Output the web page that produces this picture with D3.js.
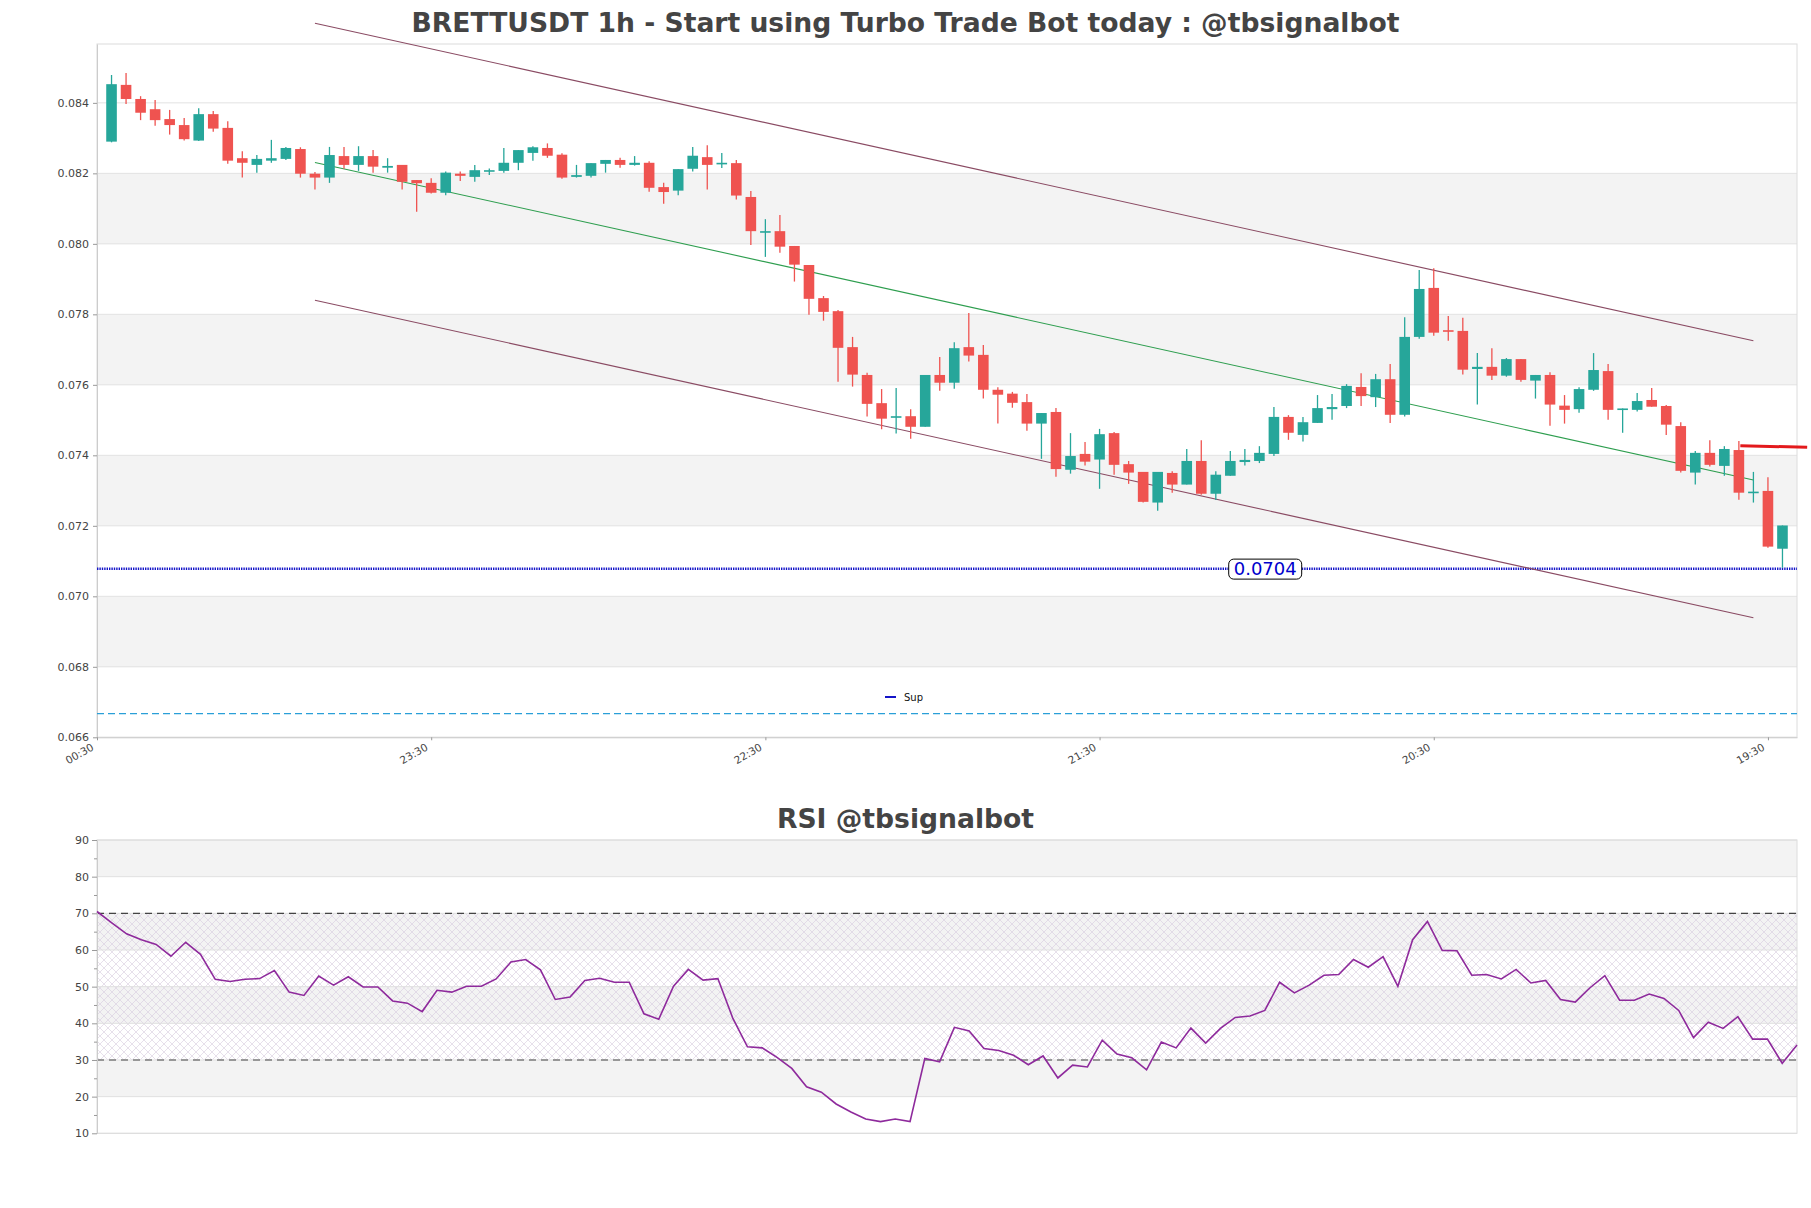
<!DOCTYPE html>
<html><head><meta charset="utf-8">
<script src="https://cdnjs.cloudflare.com/ajax/libs/d3/7.8.5/d3.min.js"></script>
<style>body{margin:0;background:#fff;} svg{display:block;font-family:"DejaVu Sans",sans-serif;}</style>
</head><body><svg id="c" width="1811" height="1208"></svg>
<script>
// ---------- DATA ----------
const opens = [0.08290,0.08451,0.08411,0.08382,0.08354,0.08337,0.08293,0.08368,0.08329,0.08243,
0.08224,0.08236,0.08241,0.08269,0.08199,0.08188,0.08249,0.08224,0.08249,0.08216,
0.08224,0.08181,0.08173,0.08145,0.08199,0.08190,0.08205,0.08207,0.08230,0.08258,
0.08272,0.08253,0.08190,0.08193,0.08227,0.08238,0.08224,0.08230,0.08161,0.08151,
0.08213,0.08246,0.08227,0.08229,0.08133,0.08034,0.08036,0.07994,0.07940,0.07846,
0.07809,0.07707,0.07628,0.07548,0.07509,0.07511,0.07481,0.07628,0.07606,0.07707,
0.07685,0.07586,0.07575,0.07551,0.07490,0.07523,0.07359,0.07404,0.07388,0.07463,
0.07375,0.07353,0.07266,0.07350,0.07317,0.07384,0.07291,0.07342,0.07381,0.07384,
0.07404,0.07509,0.07458,0.07492,0.07531,0.07540,0.07594,0.07565,0.07616,0.07515,
0.07736,0.07875,0.07755,0.07753,0.07645,0.07651,0.07626,0.07673,0.07612,0.07628,
0.07541,0.07531,0.07586,0.07639,0.07529,0.07529,0.07557,0.07540,0.07483,0.07351,
0.07407,0.07370,0.07415,0.07294,0.07299,0.07135];
const highs = [0.08479,0.08485,0.08419,0.08408,0.08380,0.08357,0.08385,0.08377,0.08348,0.08263,
0.08252,0.08295,0.08275,0.08274,0.08204,0.08275,0.08275,0.08277,0.08266,0.08243,
0.08224,0.08181,0.08186,0.08205,0.08205,0.08224,0.08214,0.08272,0.08266,0.08277,
0.08285,0.08257,0.08224,0.08229,0.08238,0.08244,0.08249,0.08234,0.08173,0.08212,
0.08275,0.08280,0.08258,0.08238,0.08150,0.08070,0.08082,0.07994,0.07940,0.07852,
0.07812,0.07736,0.07634,0.07588,0.07591,0.07531,0.07628,0.07679,0.07721,0.07804,
0.07713,0.07593,0.07580,0.07574,0.07520,0.07534,0.07463,0.07438,0.07475,0.07466,
0.07384,0.07353,0.07353,0.07355,0.07418,0.07443,0.07355,0.07412,0.07418,0.07426,
0.07537,0.07514,0.07509,0.07571,0.07574,0.07602,0.07633,0.07631,0.07659,0.07792,
0.07926,0.07931,0.07795,0.07790,0.07690,0.07704,0.07676,0.07673,0.07628,0.07636,
0.07571,0.07593,0.07690,0.07659,0.07533,0.07577,0.07591,0.07543,0.07494,0.07412,
0.07443,0.07426,0.07441,0.07353,0.07338,0.07201];
const lows = [0.08288,0.08397,0.08351,0.08335,0.08310,0.08293,0.08292,0.08318,0.08227,0.08188,
0.08202,0.08230,0.08238,0.08188,0.08154,0.08173,0.08213,0.08207,0.08202,0.08202,
0.08154,0.08091,0.08143,0.08138,0.08178,0.08176,0.08195,0.08202,0.08209,0.08236,
0.08244,0.08185,0.08188,0.08188,0.08202,0.08216,0.08222,0.08148,0.08114,0.08138,
0.08205,0.08154,0.08215,0.08126,0.07997,0.07963,0.07975,0.07893,0.07799,0.07782,
0.07609,0.07595,0.07510,0.07474,0.07462,0.07447,0.07481,0.07583,0.07589,0.07666,
0.07561,0.07490,0.07535,0.07470,0.07390,0.07339,0.07348,0.07371,0.07305,0.07345,
0.07319,0.07266,0.07243,0.07294,0.07317,0.07288,0.07273,0.07342,0.07371,0.07378,
0.07398,0.07444,0.07439,0.07492,0.07501,0.07534,0.07540,0.07537,0.07492,0.07510,
0.07731,0.07739,0.07725,0.07629,0.07544,0.07614,0.07623,0.07609,0.07561,0.07484,
0.07490,0.07521,0.07583,0.07501,0.07464,0.07524,0.07538,0.07458,0.07351,0.07317,
0.07368,0.07342,0.07274,0.07266,0.07138,0.07081];
const closes = [0.08453,0.08411,0.08372,0.08351,0.08337,0.08297,0.08368,0.08327,0.08236,0.08230,
0.08241,0.08243,0.08272,0.08199,0.08188,0.08252,0.08224,0.08249,0.08219,0.08221,
0.08176,0.08172,0.08145,0.08202,0.08193,0.08209,0.08209,0.08230,0.08266,0.08274,
0.08250,0.08188,0.08195,0.08229,0.08238,0.08224,0.08230,0.08159,0.08147,0.08212,
0.08250,0.08224,0.08230,0.08137,0.08036,0.08036,0.07992,0.07941,0.07844,0.07807,
0.07705,0.07629,0.07546,0.07504,0.07511,0.07481,0.07628,0.07606,0.07704,0.07683,
0.07586,0.07572,0.07549,0.07490,0.07520,0.07361,0.07398,0.07382,0.07460,0.07373,
0.07351,0.07268,0.07353,0.07317,0.07384,0.07291,0.07345,0.07384,0.07387,0.07407,
0.07509,0.07464,0.07494,0.07534,0.07537,0.07597,0.07568,0.07616,0.07515,0.07736,
0.07872,0.07748,0.07753,0.07643,0.07651,0.07626,0.07673,0.07614,0.07628,0.07544,
0.07529,0.07588,0.07642,0.07529,0.07533,0.07554,0.07538,0.07487,0.07356,0.07407,
0.07373,0.07418,0.07294,0.07297,0.07141,0.07201];
const rsiValues = [70.5,67.4,64.4,62.8,61.5,58.3,62.1,58.8,52.0,51.4,
52.0,52.2,54.4,48.5,47.6,52.9,50.4,52.7,49.9,49.9,
46.1,45.5,43.2,49.0,48.5,50.1,50.1,52.1,56.7,57.4,
54.6,46.5,47.2,51.7,52.3,51.2,51.2,42.6,41.1,50.1,
54.7,51.8,52.2,41.5,33.6,33.3,30.7,27.7,22.7,21.2,
18.0,15.8,13.9,13.2,13.9,13.2,30.4,29.5,38.9,37.9,
33.1,32.6,31.3,28.7,31.1,25.1,28.6,28.1,35.4,31.6,
30.6,27.3,34.9,33.3,38.7,34.6,38.6,41.6,42.0,43.5,
51.2,48.3,50.4,53.1,53.3,57.4,55.3,58.2,50.1,62.8,
67.8,59.9,59.8,53.1,53.3,52.1,54.7,51.0,51.7,46.5,
45.8,49.7,53.0,46.3,46.3,48.0,46.8,43.5,36.1,40.3,
38.6,41.8,35.7,35.7,29.1,34.1];
const timeLabels = ["00:30","23:30","22:30","21:30","20:30","19:30"];
const timeLabelIndex = [-1,22,45,68,91,114];
const priceTicks = [0.066,0.068,0.070,0.072,0.074,0.076,0.078,0.080,0.082,0.084];
const priceBandLows = [0.068,0.072,0.076,0.080];
const rsiTicks = [10,20,30,40,50,60,70,80,90];
const rsiMinorTicks = [15,25,35,45,55,65,75,85];
const rsiBandLows = [20,40,60,80];
const rsiLevels = [30,70];
// trend channel: [startIndex, startPrice, endIndex, endPrice]
const upperLine = [14, 0.08626, 113, 0.07725];
const midLine   = [14, 0.08231, 113, 0.07330];
const lowerLine = [14, 0.07840, 113, 0.06939];
const redLine   = [112.1, 0.07427, 116.7, 0.07423];
const blueLevel = 0.07078;
const blueLabel = "0.0704";
const blueLabelIndex = 79.4;
const supLevel = 0.06667;
const titleText = "BRETTUSDT 1h - Start using Turbo Trade Bot today : @tbsignalbot";
const rsiTitleText = "RSI @tbsignalbot";

// ---------- LAYOUT ----------
const svg = d3.select("#c");
svg.append("rect").attr("width",1811).attr("height",1208).attr("fill","#fff");
const L = 97, R = 1797;
const mT = 44, mB = 737.3;
const rT = 840, rB = 1133.3;
const x = d3.scaleLinear().domain([-1,116]).range([L,R]);
const y = d3.scaleLinear().domain([0.066,0.08567]).range([mB,mT]);
const xr = d3.scaleLinear().domain([0,115]).range([L,R]);
const yr = d3.scaleLinear().domain([10,90]).range([rB,rT]);

// ---------- MAIN ----------
const gm = svg.append("g");
gm.selectAll("rect.band").data(priceBandLows).join("rect")
  .attr("x",L).attr("width",R-L)
  .attr("y",d=>y(d+0.002)).attr("height",d=>y(d)-y(d+0.002))
  .attr("fill","#f3f3f3");
gm.selectAll("line.grid").data(priceTicks).join("line")
  .attr("x1",L).attr("x2",R).attr("y1",d=>y(d)).attr("y2",d=>y(d))
  .attr("stroke","#e2e2e2").attr("stroke-width",1);
gm.append("rect").attr("x",L).attr("y",mT).attr("width",R-L).attr("height",mB-mT)
  .attr("fill","none").attr("stroke","#dcdcdc");

const yAxis = gm.append("g").attr("transform",`translate(${L},0)`)
  .call(d3.axisLeft(y).tickValues(priceTicks).tickFormat(d3.format(".3f")).tickSize(4).tickSizeOuter(0).tickPadding(4));
yAxis.select(".domain").attr("stroke","#cccccc");
yAxis.selectAll(".tick line").attr("stroke","#999");
yAxis.selectAll("text").attr("font-size",11).attr("fill","#444").attr("font-family","DejaVu Sans");

const xAxis = gm.append("g").attr("transform",`translate(0,${mB})`)
  .call(d3.axisBottom(x).tickValues(timeLabelIndex).tickFormat((d,i)=>timeLabels[i]).tickSize(3).tickSizeOuter(0));
xAxis.select(".domain").attr("stroke","#cccccc");
xAxis.selectAll(".tick line").attr("stroke","#999");
xAxis.selectAll("text").attr("font-size",10.5).attr("fill","#444").attr("font-family","DejaVu Sans")
  .attr("text-anchor","end").attr("dy",null).attr("y",0)
  .attr("transform","translate(-3,12) rotate(-30)");

// reference lines
gm.append("line").attr("x1",L).attr("x2",R).attr("y1",y(supLevel)).attr("y2",y(supLevel))
  .attr("stroke","#2a9fd8").attr("stroke-width",1.2).attr("stroke-dasharray","7,4");
gm.append("line").attr("x1",L).attr("x2",R).attr("y1",y(blueLevel)).attr("y2",y(blueLevel))
  .attr("stroke","#1414c8").attr("stroke-width",2.6).attr("stroke-dasharray","1.4,1");

// channel lines
const seg = (arr,col,w)=>gm.append("line")
  .attr("x1",x(arr[0])).attr("y1",y(arr[1])).attr("x2",x(arr[2])).attr("y2",y(arr[3]))
  .attr("stroke",col).attr("stroke-width",w);
seg(upperLine,"#8a4b63",1.1);
seg(lowerLine,"#8a4b63",1.1);
seg(midLine,"#2e9e4f",1.1);

// candles
const idx = d3.range(opens.length);
const bw = (x(1)-x(0))*0.73;
const up = "#26a69a", dn = "#ef5350";
const cg = gm.append("g");
cg.selectAll("line.wick").data(idx).join("line")
  .attr("x1",i=>x(i)).attr("x2",i=>x(i)).attr("y1",i=>y(highs[i])).attr("y2",i=>y(lows[i]))
  .attr("stroke",i=>closes[i]>=opens[i]?up:dn).attr("stroke-width",1.3);
cg.selectAll("rect.body").data(idx).join("rect")
  .attr("x",i=>x(i)-bw/2).attr("width",bw)
  .attr("y",i=>y(Math.max(opens[i],closes[i])))
  .attr("height",i=>Math.max(1.6,Math.abs(y(opens[i])-y(closes[i]))))
  .attr("fill",i=>closes[i]>=opens[i]?up:dn);

seg(redLine,"#e31a1c",3);

// blue label
const lgp = gm.append("g");
const lx = x(blueLabelIndex), ly = y(blueLevel);
const lt = lgp.append("text").attr("x",lx).attr("y",ly).attr("dy","0.35em").attr("text-anchor","middle")
  .attr("font-size",18).attr("fill","#0000cd").text(blueLabel);
const bb = lt.node().getBBox();
lgp.insert("rect","text").attr("x",bb.x-5).attr("y",bb.y+1).attr("width",bb.width+10).attr("height",bb.height-1)
  .attr("rx",5).attr("fill","#fff").attr("stroke","#000").attr("stroke-width",1);

// legend
const lg = gm.append("g").attr("transform","translate(885,697)");
lg.append("line").attr("x1",0).attr("x2",11).attr("stroke","#1414c8").attr("stroke-width",2);
lg.append("text").attr("x",19).attr("dy","0.35em").attr("font-size",10).attr("fill","#111").text("Sup");

// title
svg.append("text").attr("x",905.5).attr("y",32).attr("text-anchor","middle")
  .attr("font-size",26.6).attr("font-weight","bold").attr("fill","#444").text(titleText);

// ---------- RSI ----------
const gr = svg.append("g");
gr.selectAll("rect.band").data(rsiBandLows).join("rect")
  .attr("x",L).attr("width",R-L).attr("y",d=>yr(d+10)).attr("height",d=>yr(d)-yr(d+10))
  .attr("fill","#f3f3f3");
const defs = svg.append("defs");
const pat = defs.append("pattern").attr("id","hatch").attr("patternUnits","userSpaceOnUse")
  .attr("width",8).attr("height",8);
pat.append("path").attr("d","M0,0L8,8M8,0L0,8").attr("stroke","#d9cde0").attr("stroke-width",0.7);
gr.append("rect").attr("x",L).attr("width",R-L).attr("y",yr(70)).attr("height",yr(30)-yr(70))
  .attr("fill","url(#hatch)").attr("opacity",0.9);
gr.selectAll("line.grid").data(rsiTicks).join("line")
  .attr("x1",L).attr("x2",R).attr("y1",d=>yr(d)).attr("y2",d=>yr(d))
  .attr("stroke","#e0e0e0");
gr.append("rect").attr("x",L).attr("y",rT).attr("width",R-L).attr("height",rB-rT)
  .attr("fill","none").attr("stroke","#dcdcdc");
gr.selectAll("line.lvl").data(rsiLevels).join("line")
  .attr("x1",L).attr("x2",R).attr("y1",d=>yr(d)).attr("y2",d=>yr(d))
  .attr("stroke","#444").attr("stroke-width",1.2).attr("stroke-dasharray","7,5");
const ra = gr.append("g").attr("transform",`translate(${L},0)`)
  .call(d3.axisLeft(yr).tickValues(rsiTicks).tickSize(5).tickSizeOuter(0).tickPadding(3));
ra.select(".domain").attr("stroke","#cccccc");
ra.selectAll(".tick line").attr("stroke","#999");
ra.selectAll("text").attr("font-size",11).attr("fill","#444").attr("font-family","DejaVu Sans");
const rm = gr.append("g").attr("transform",`translate(${L},0)`)
  .call(d3.axisLeft(yr).tickValues(rsiMinorTicks).tickSize(3).tickFormat(""));
rm.select(".domain").remove();
rm.selectAll(".tick line").attr("stroke","#999");
gr.append("path").datum(rsiValues)
  .attr("d",d3.line().x((d,i)=>xr(i)).y(d=>yr(d)))
  .attr("fill","none").attr("stroke","#8e2a9c").attr("stroke-width",1.6);
svg.append("text").attr("x",905.5).attr("y",828).attr("text-anchor","middle")
  .attr("font-size",26.6).attr("font-weight","bold").attr("fill","#444").text(rsiTitleText);
</script></body></html>
